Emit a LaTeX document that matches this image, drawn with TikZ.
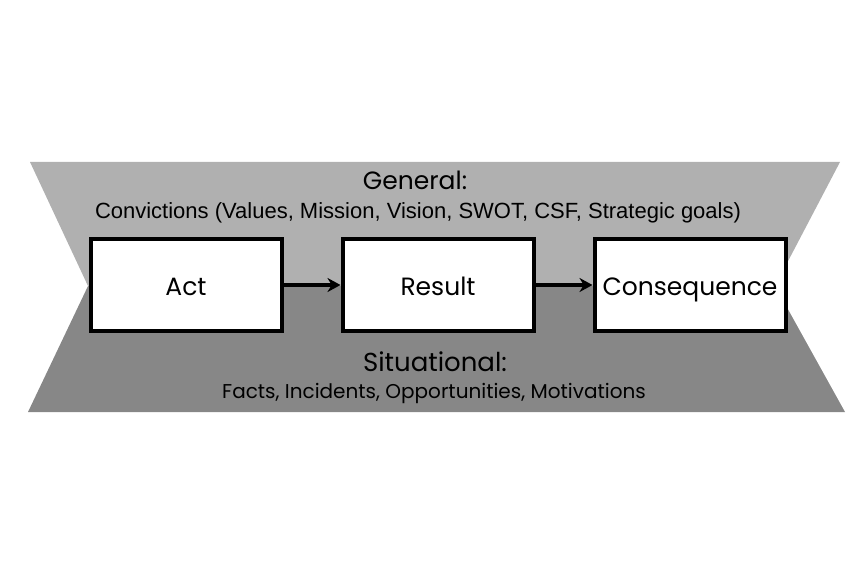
\documentclass[tikz,border=0pt]{standalone}
\usepackage{fontspec}
\setmainfont{Poppins}
\newfontfamily\plainfont{Liberation Sans}
\usetikzlibrary{arrows.meta,positioning}
\definecolor{upgray}{gray}{0.69}
\definecolor{lowgray}{gray}{0.53}
\tikzset{
  stagebox/.style={draw,line width=4pt,fill=white,minimum width=191pt,minimum height=91pt,inner sep=0pt,text height=21pt,text depth=0pt,font=\fontsize{25}{30}\selectfont},
  flow/.style={-{Stealth[length=13pt,width=14pt]},line width=3.5pt}
}
\begin{document}
\begin{tikzpicture}[x=1pt,y=1pt]
  \useasboundingbox (0,0) rectangle (856,571);
  % the two gray bands
  \fill[upgray] (30,409) -- (840,409) -- (775,285) -- (88,285) -- cycle;
  \fill[lowgray] (88,285) -- (775,285) -- (845,159) -- (28,159) -- cycle;
  % texts in the bands
  \node[font=\fontsize{25}{28}\selectfont] (gen) at (415,391) {General:};
  \node[font=\plainfont\fontsize{22}{24}\selectfont] (conv) at (418,358) {Convictions (Values, Mission, Vision, SWOT, CSF, Strategic goals)};
  \node[font=\fontsize{26}{28}\selectfont] (sit) at (435,209) {Situational:};
  \node[font=\fontsize{20}{22}\selectfont] (facts) at (434,178) {Facts, Incidents, Opportunities, Motivations};
  % the chain
  \node[stagebox] (act) at (186,286) {Act};
  \node[stagebox,right=57pt of act] (res) {Result};
  \node[stagebox,right=57pt of res] (cons) {Consequence};
  \draw[flow] (act) -- (res);
  \draw[flow] (res) -- (cons);
\end{tikzpicture}
\end{document}
